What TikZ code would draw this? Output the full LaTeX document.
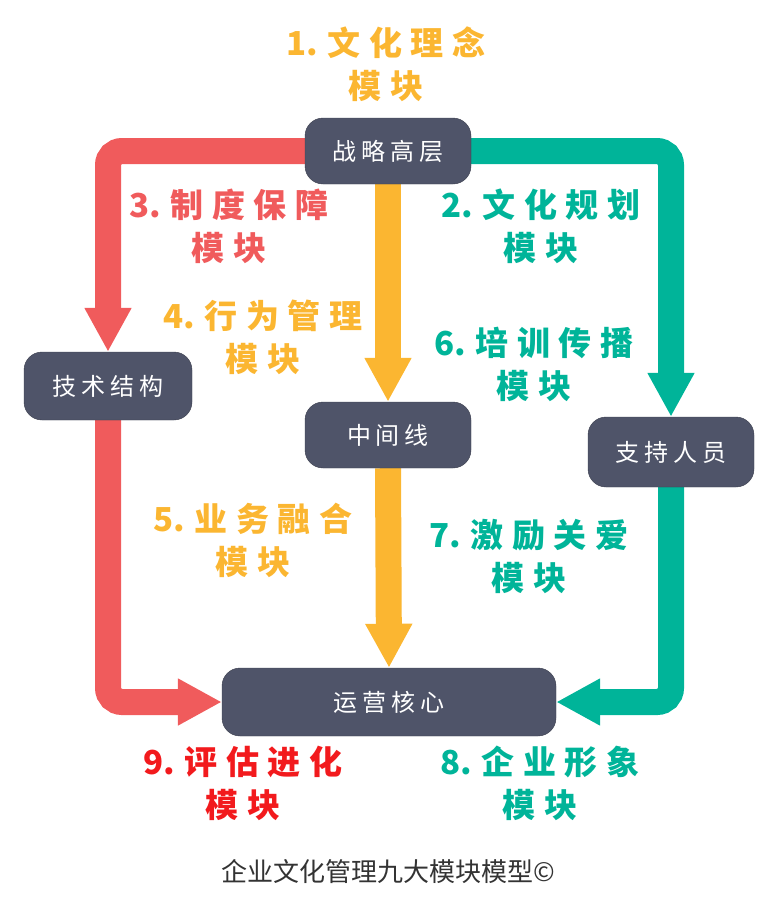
\documentclass[tikz,border=0pt]{standalone}
\usepackage{fontspec}
\newfontfamily\cjk{Noto Sans CJK SC}
\usetikzlibrary{positioning, calc}
\usetikzlibrary{arrows.meta}
\pgfdeclarelayer{bg}
\pgfsetlayers{bg,main}

\definecolor{boxfill}{HTML}{4F5469}
\definecolor{boxline}{HTML}{3A3D4C}
\definecolor{redc}{HTML}{F05B5C}
\definecolor{orangec}{HTML}{FBB631}
\definecolor{tealc}{HTML}{00B499}
\definecolor{brightred}{HTML}{F21A1D}
\definecolor{captionc}{HTML}{333333}

% module number, set without the letter spacing
\newcommand{\modno}[1]{{\addfontfeature{LetterSpace=0}#1.}\hspace{9pt}}

\tikzset{
  level/.style={draw=boxline, fill=boxfill, rounded corners=18pt, text=white,
    minimum width=166pt, minimum height=66pt, inner sep=0pt,
    font=\cjk\fontsize{24}{28}\selectfont\addfontfeature{LetterSpace=20}},
  modlabel/.style={align=center, inner sep=0pt,
    font=\cjk\bfseries\fontsize{33}{43}\selectfont\addfontfeature{LetterSpace=26}},
  flow/.style={line width=26pt, rounded corners=14pt,
    -{Triangle[length=44pt, width=44pt]}}
}

\begin{document}
\begin{tikzpicture}[x=1pt, y=-1pt]
  \useasboundingbox (0,0) rectangle (777,922);

  % levels
  \node[level] (top) at (388,151) {战略高层};
  \node[level, minimum width=168pt, minimum height=68pt] (tech) at (108,386) {技术结构};
  \node[level] (mid) at (388,435) {中间线};
  \node[level, minimum height=70pt] (support) at (671,452) {支持人员};
  \node[level, minimum width=334pt, minimum height=68pt] (core) at (389,702) {运营核心};

  % flows
  \begin{pgfonlayer}{bg}
    \draw[flow, redc] (top.west) -| (tech.north);
    \draw[flow, redc] (tech.south) |- (core.west);
    \draw[flow, orangec] (top.south) -- (mid.north);
    \draw[flow, orangec] (mid.south) -- (core.north);
    \draw[flow, tealc] (top.east) -| (support.north);
    \draw[flow, tealc] (support.south) |- (core.east);
  \end{pgfonlayer}

  % modules
  \node[modlabel, text=orangec] (m1) at (386,64) {\modno{1}文化理念\\模块};
  \node[modlabel, text=tealc] (m2) at (541,226) {\modno{2}文化规划\\模块};
  \node[modlabel, text=redc] (m3) at (229,226) {\modno{3}制度保障\\模块};
  \node[modlabel, text=orangec] (m4) at (263,337) {\modno{4}行为管理\\模块};
  \node[modlabel, text=orangec] (m5) at (253,540) {\modno{5}业务融合\\模块};
  \node[modlabel, text=tealc] (m6) at (534,364) {\modno{6}培训传播\\模块};
  \node[modlabel, text=tealc] (m7) at (529,556) {\modno{7}激励关爱\\模块};
  \node[modlabel, text=tealc] (m8) at (540,783) {\modno{8}企业形象\\模块};
  \node[modlabel, text=brightred] (m9) at (243,783) {\modno{9}评估进化\\模块};

  \node[font=\cjk\fontsize{26}{30}\selectfont, text=captionc] (caption) at (388,872) {企业文化管理九大模块模型©};
\end{tikzpicture}
\end{document}
